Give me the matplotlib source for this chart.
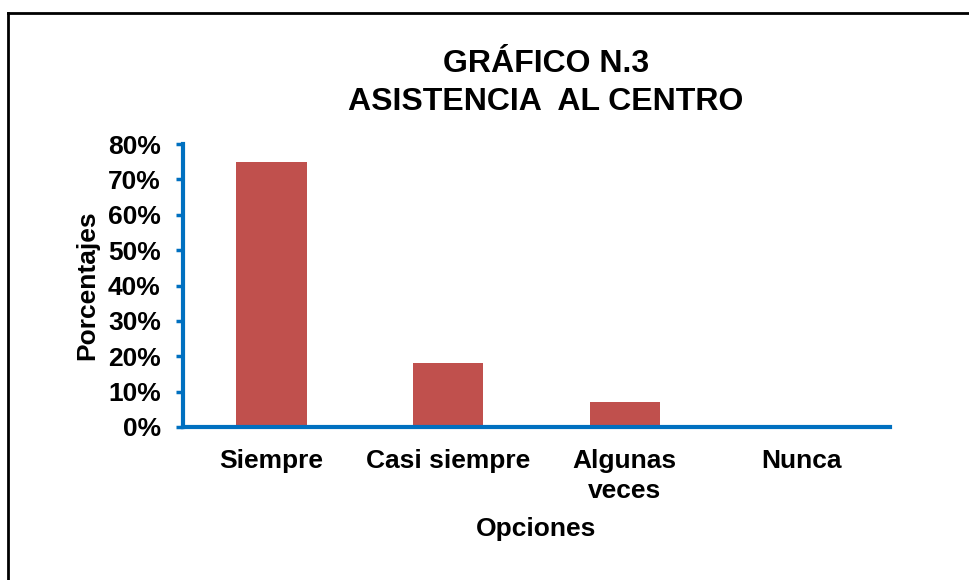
import matplotlib
matplotlib.use("Agg")
import matplotlib.pyplot as plt
from matplotlib.lines import Line2D
from matplotlib.ticker import FuncFormatter, MultipleLocator

categories = ["Siempre", "Casi siempre", "Algunas\nveces", "Nunca"]
values = [0.75, 0.18, 0.07, 0.0]

plt.rcParams['font.family'] = ['Liberation Sans', 'DejaVu Sans']
plt.rcParams['font.weight'] = 'bold'

W, H = 969, 580
fig = plt.figure(figsize=(W/100, H/100), dpi=100)
ax = fig.add_axes([183/W, 1-427/H, (890-183)/W, (427-144)/H])

bar_color = "#C0504D"
axis_color = "#0070C0"
ax.bar(range(len(categories)), values, width=0.4, color=bar_color)
ax.set_xlim(-0.5, 3.5)
ax.set_ylim(0, 0.8)
ax.yaxis.set_major_locator(MultipleLocator(0.1))
ax.yaxis.set_major_formatter(FuncFormatter(lambda v, p: f"{round(v*100):d}%"))
ax.set_xticks(range(len(categories)))
ax.set_xticklabels(categories, fontsize=19, fontweight='bold', linespacing=1.3)
for lbl in ax.get_yticklabels():
    lbl.set_fontsize(19)
    lbl.set_fontweight('bold')
ax.tick_params(axis='x', length=0, pad=16)
ax.tick_params(axis='y', length=5, width=2.5, color=axis_color, pad=11)
for s in ['top', 'right']:
    ax.spines[s].set_visible(False)
for s in ['left', 'bottom']:
    ax.spines[s].set_color(axis_color)
    ax.spines[s].set_linewidth(3)

ax.set_ylabel("Porcentajes", fontsize=19, fontweight='bold')
ax.set_xlabel("Opciones", fontsize=19, fontweight='bold')
ax.yaxis.set_label_coords(87/W, 1-285/H, transform=fig.transFigure)
ax.xaxis.set_label_coords(536/W, 1-529/H, transform=fig.transFigure)
ax.yaxis.label.set_va('center')
ax.xaxis.label.set_va('center')
fig.text(546/W, 1-83/H, "GRÁFICO N.3\nASISTENCIA  AL CENTRO", ha='center', va='center',
         fontsize=23, fontweight='bold', linespacing=1.32)

fig.add_artist(Line2D([8/W, 968/W], [1-13/H, 1-13/H], color='black', lw=2, transform=fig.transFigure))
fig.add_artist(Line2D([8/W, 8/W], [1-13/H, 0], color='black', lw=2, transform=fig.transFigure))

fig.savefig("out.png", dpi=100, facecolor='white')
